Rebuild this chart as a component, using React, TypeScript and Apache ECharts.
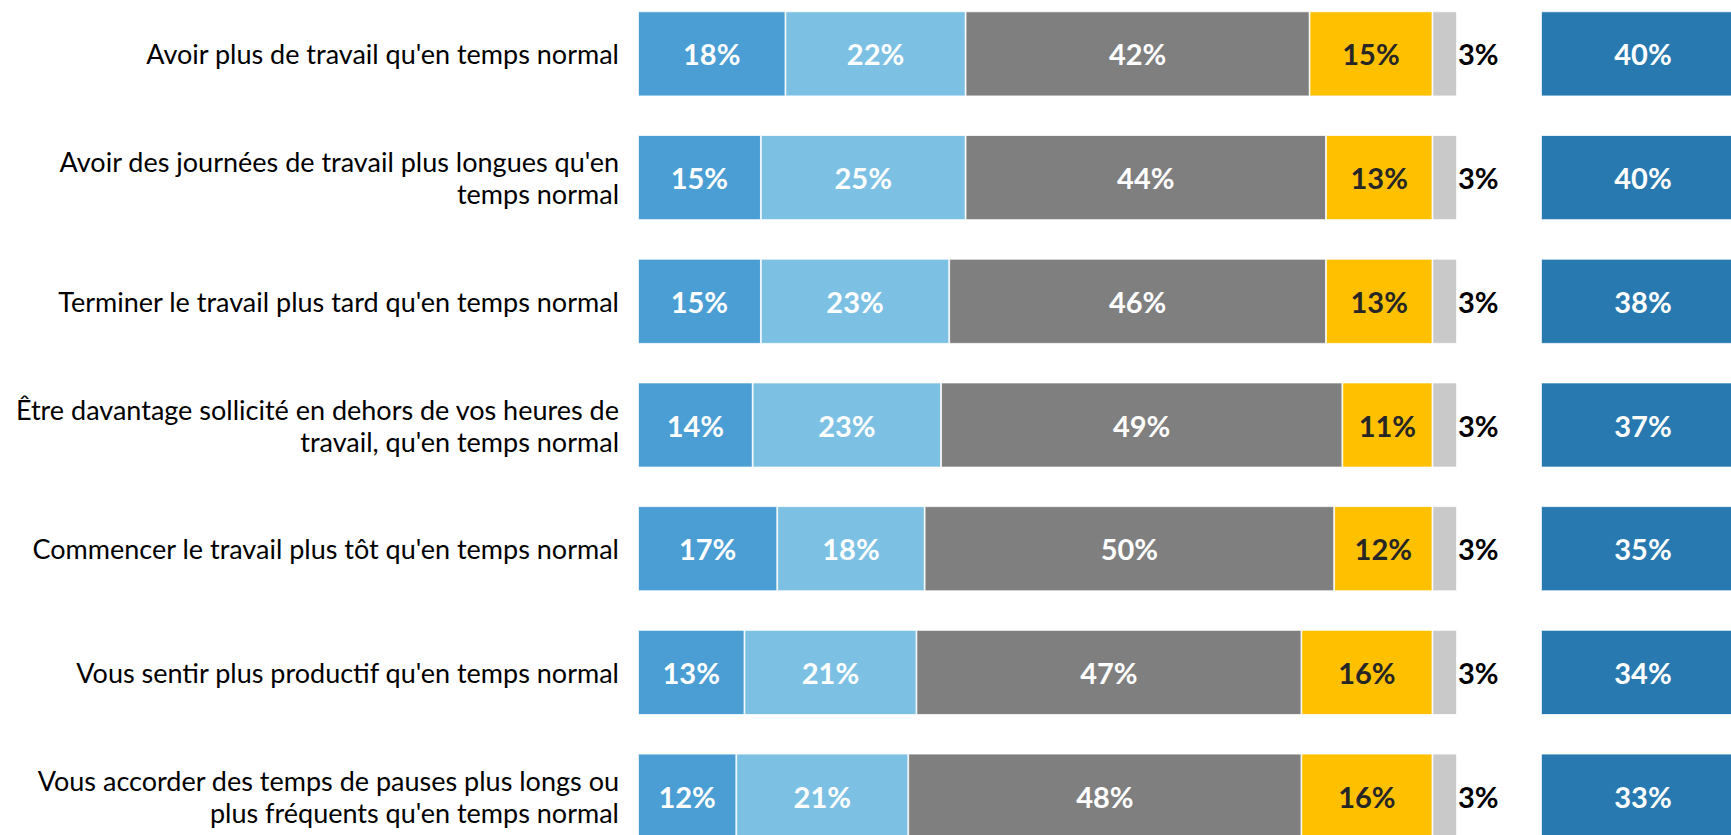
import React, { useEffect, useRef } from "react";
import * as echarts from "echarts";

const categories = [
  "Avoir plus de travail qu'en temps normal",
  "Avoir des journées de travail plus longues qu'en\ntemps normal",
  "Terminer le travail plus tard qu'en temps normal",
  "Être davantage sollicité en dehors de vos heures de\ntravail, qu'en temps normal",
  "Commencer le travail plus tôt qu'en temps normal",
  "Vous sentir plus productif qu'en temps normal",
  "Vous accorder des temps de pauses plus longs ou\nplus fréquents qu'en temps normal",
];
const seg1 = [18, 15, 15, 14, 17, 13, 12];
const seg2 = [22, 25, 23, 23, 18, 21, 21];
const seg3 = [42, 44, 46, 49, 50, 47, 48];
const seg4 = [15, 13, 13, 11, 12, 16, 16];
const seg5 = [3, 3, 3, 3, 3, 3, 3];
const totals = [40, 40, 38, 37, 35, 34, 33];

const FONT = "Lato, 'Open Sans', sans-serif";

export default function App() {
  const ref = useRef<HTMLDivElement>(null);
  useEffect(() => {
    document.documentElement.style.overflow = "hidden";
    document.body.style.margin = "0";
    document.body.style.overflow = "hidden";
    if (!ref.current) return;
    const chart = echarts.init(ref.current, null, { renderer: "svg" });
    const barW = 85;
    const lbl = (color: string) => ({
      show: true,
      position: "inside" as const,
      color,
      fontFamily: FONT,
      fontWeight: "bold" as const,
      fontSize: 29,
      formatter: (p: any) => p.value + "%",
    });
    const seg = (name: string, data: number[], color: string, labelColor: string) => ({
      type: "bar",
      name,
      stack: "s",
      data,
      barWidth: barW,
      xAxisIndex: 0,
      yAxisIndex: 0,
      itemStyle: { color, borderColor: "#ffffff", borderWidth: 0.8 },
      label: lbl(labelColor),
    });
    chart.setOption({
      animation: false,
      textStyle: { fontFamily: FONT },
      grid: [
        { left: 638, width: 819, top: 0, height: 866, containLabel: false },
        { left: 1541, width: 204, top: 0, height: 866, containLabel: false },
      ],
      xAxis: [
        { type: "value", gridIndex: 0, min: 0, max: 100, show: false },
        { type: "value", gridIndex: 1, min: 0, max: 1, show: false },
      ],
      yAxis: [
        {
          type: "category",
          gridIndex: 0,
          inverse: true,
          data: categories,
          axisLine: { show: false },
          axisTick: { show: false },
          axisLabel: {
            margin: 19,
            color: "#000000",
            fontFamily: FONT,
            fontSize: 27,
            lineHeight: 32,
            align: "right",
          },
        },
        {
          type: "category",
          gridIndex: 1,
          inverse: true,
          data: categories,
          show: false,
        },
      ],
      series: [
        seg("s1", seg1, "#4A9ED4", "#ffffff"),
        seg("s2", seg2, "#7CC1E4", "#ffffff"),
        seg("s3", seg3, "#7F7F7F", "#ffffff"),
        seg("s4", seg4, "#FFC000", "#262626"),
        {
          ...seg("s5", seg5, "#C9C9C9", "#000000"),
          label: { ...lbl("#000000"), position: "right", distance: 1 },
        },
        {
          type: "bar",
          name: "total",
          xAxisIndex: 1,
          yAxisIndex: 1,
          data: totals.map(() => 1),
          barWidth: barW,
          itemStyle: { color: "#2779B0", borderColor: "#ffffff", borderWidth: 0.8 },
          label: {
            ...lbl("#ffffff"),
            formatter: (p: any) => totals[p.dataIndex] + "%",
          },
        },
      ],
    });
    return () => chart.dispose();
  }, []);
  return (
    <div
      ref={ref}
      style={{ position: "absolute", left: 0, top: -8, width: 1760, height: 866 }}
    />
  );
}
